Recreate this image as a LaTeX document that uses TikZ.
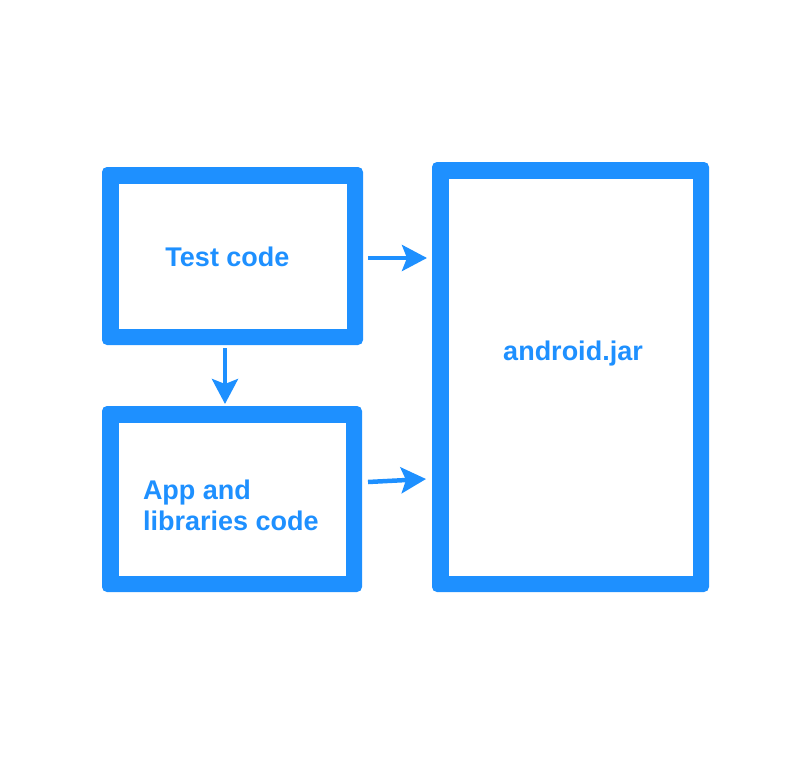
\documentclass[tikz,border=0pt]{standalone}
\usepackage{fontspec}
\setmainfont{Liberation Sans}
\usetikzlibrary{arrows.meta}
\definecolor{dblue}{RGB}{30,144,255}
\tikzset{
  box/.style={fill=dblue, rounded corners=5pt, inner sep=0pt, outer sep=0pt},
  lbl/.style={text=dblue, font=\fontsize{27}{31}\selectfont\bfseries, inner sep=0pt, outer sep=0pt},
  conn/.style={draw=dblue, line width=4.5pt,
    -{Stealth[length=25pt, width=26pt, inset=5pt]}}
}
\newcommand{\innerwhite}[1]{%
  \fill[white] ([shift={(16.5pt,16.5pt)}]#1.south west) rectangle ([shift={(-16.5pt,-16.5pt)}]#1.north east);}
\begin{document}
\begin{tikzpicture}[x=1pt, y=-1pt]
\useasboundingbox (0,0) rectangle (801,776);
% boxes
\node[box, minimum width=261pt, minimum height=178pt] (test) at (232.5,256) {};
\innerwhite{test}
\node[box, minimum width=260pt, minimum height=186pt] (app) at (232,499) {};
\innerwhite{app}
\node[box, minimum width=277pt, minimum height=430pt] (jar) at (570.5,377) {};
\innerwhite{jar}
% labels
\node[lbl, anchor=base] (testlbl) at (227.5,266) {Test code};
\node[lbl, anchor=base west, align=left] (applbl) at (143,530) {App and\\libraries code};
\node[lbl, anchor=base] (jarlbl) at (573,360) {android.jar};
% connectors
\coordinate (t1) at (368,258);
\coordinate (h1) at (427,258);
\coordinate (t2) at (368,482);
\coordinate (h2) at (426,479);
\coordinate (t3) at (225,348);
\coordinate (h3) at (225,404);
\draw[conn] (t1) -- (h1);
\draw[conn] (t2) -- (h2);
\draw[conn] (t3) -- (h3);
\end{tikzpicture}
\end{document}
